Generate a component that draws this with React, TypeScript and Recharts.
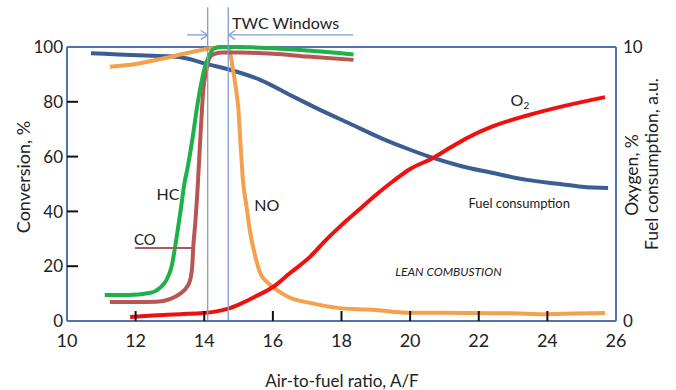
import React from 'react';
import {
  LineChart,
  Line,
  XAxis,
  YAxis,
  ReferenceLine,
  ReferenceDot,
} from 'recharts';

// air-to-fuel ratio ticks and axis ticks
const afrTicks = [10, 12, 14, 16, 18, 20, 22, 24, 26];
const conversionTicks = [0, 20, 40, 60, 80, 100];
const oxygenTicks = [0, 10];

// HC conversion, %
const hcAfr = [11.1, 11.8, 12.4, 12.7, 12.9, 13.05, 13.15, 13.3, 13.44, 13.5, 13.65, 13.79, 13.9, 14.02, 14.15, 14.3, 14.5, 15, 16, 17, 18.35];
const hcConv = [9.5, 9.5, 10.2, 12, 15, 20, 27, 39.4, 51.5, 55, 66, 78, 86, 92.7, 97, 99.6, 100, 100, 99.5, 98.7, 97.3];

// CO conversion, %
const coAfr = [11.25, 12.0, 12.6, 13.0, 13.3, 13.5, 13.59, 13.65, 13.68, 13.74, 13.79, 13.82, 13.9, 13.97, 14.07, 14.17, 14.3, 14.55, 15, 16, 17, 18.35];
const coConv = [6.9, 6.9, 7, 8, 10, 12.5, 15, 20, 27, 36, 45, 51.5, 70, 84, 92, 96.4, 97.5, 98, 98, 97.5, 96.5, 95.3];

// NO conversion, %
const noAfr = [11.25, 12.0, 12.8, 13.5, 14.08, 14.4, 14.65, 14.75, 14.84, 14.92, 14.99, 15.06, 15.13, 15.23, 15.33, 15.48, 15.63, 15.85, 16.12, 16.5, 17.08, 17.96, 18.5, 19.0, 19.9, 21, 21.95, 23, 23.88, 24.8, 25.68];
const noConv = [92.8, 93.8, 95.8, 97.8, 99.3, 99.8, 100, 98, 91.6, 85, 78, 64, 51, 42, 33, 24, 17.5, 14, 11.3, 8.5, 6.6, 4.7, 4.3, 4, 3, 3, 2.9, 2.8, 2.5, 2.7, 2.9];

// fuel consumption, a.u. (right axis)
const fuelAfr = [10.7, 11.5, 12.5, 13.0, 13.5, 14.0, 14.75, 15.63, 16.5, 17.3, 18.25, 19.2, 20.0, 20.67, 21.5, 22.42, 23.4, 24.37, 25.0, 25.77];
const fuelUse = [9.77, 9.73, 9.68, 9.66, 9.58, 9.4, 9.17, 8.8, 8.25, 7.75, 7.2, 6.65, 6.25, 5.95, 5.65, 5.4, 5.15, 5.0, 4.9, 4.85];

// oxygen, % (right axis)
const o2Afr = [11.84, 12.5, 13.3, 13.97, 14.4, 14.75, 15.1, 15.5, 16.0, 16.5, 17.08, 17.58, 18.0, 18.5, 19.0, 19.5, 20.0, 20.67, 21.2, 21.66, 22.4, 23.41, 24.5, 25.68];
const o2Pct = [0.15, 0.2, 0.25, 0.29, 0.36, 0.47, 0.65, 0.9, 1.24, 1.75, 2.34, 3.0, 3.5, 4.05, 4.6, 5.1, 5.55, 5.95, 6.35, 6.68, 7.1, 7.5, 7.85, 8.17];

// TWC window bounds
const twcLow = 14.1;
const twcHigh = 14.7;

const toPoints = (xs: number[], ys: number[]) => xs.map((afr, i) => ({ afr, v: ys[i] }));

const hcData = toPoints(hcAfr, hcConv);
const coData = toPoints(coAfr, coConv);
const noData = toPoints(noAfr, noConv);
const fuelData = toPoints(fuelAfr, fuelUse);
const o2Data = toPoints(o2Afr, o2Pct);

const FONT = 'Lato, "Open Sans", sans-serif';
const FRAME = '#5274ae';
const WIN = '#7f9fd2';

const LeftTick = (props: any) => {
  const { x, y, payload } = props;
  const axisX = x + 4;
  const v = payload.value;
  return (
    <g>
      {v !== 0 && v !== 100 && (
        <line x1={axisX} x2={axisX + 11} y1={y} y2={y} stroke="#111" strokeWidth={2} />
      )}
      <text x={x} y={y} dy="0.36em" textAnchor="end" fontSize={17} fontFamily={FONT} fill="#222">
        {v}
      </text>
    </g>
  );
};

const RightTick = (props: any) => {
  const { x, y, payload } = props;
  return (
    <text x={x} y={y} dy="0.36em" textAnchor="start" fontSize={17} fontFamily={FONT} fill="#222">
      {payload.value}
    </text>
  );
};

const BottomTick = (props: any) => {
  const { x, y, payload } = props;
  const v = payload.value;
  return (
    <g>
      {v !== 10 && v !== 26 && (
        <line x1={x} x2={x} y1={y} y2={y - 10} stroke="#111" strokeWidth={2} />
      )}
      <text x={x} y={y + 26} textAnchor="middle" fontSize={18} fontFamily={FONT} fill="#222">
        {v}
      </text>
    </g>
  );
};

const textShape = (label: React.ReactNode, size: number, italic = false) => (p: any) => (
  <text
    x={p.cx}
    y={p.cy}
    textAnchor="middle"
    dominantBaseline="central"
    fontSize={size}
    fontStyle={italic ? 'italic' : 'normal'}
    fontFamily={FONT}
    fill="#222"
  >
    {label}
  </text>
);

const titleStyle: React.CSSProperties = {
  position: 'absolute',
  fontFamily: FONT,
  color: '#222',
  whiteSpace: 'nowrap',
  transform: 'translate(-50%, -50%)',
  lineHeight: 1,
};

export default function App() {
  return (
    <div style={{ position: 'absolute', left: 0, top: 0, width: 676, height: 390, background: '#fff' }}>
      <LineChart width={676} height={390} margin={{ top: 47, right: 0, bottom: 0, left: 0 }}>
        <XAxis
          dataKey="afr"
          type="number"
          domain={[10, 26]}
          ticks={afrTicks}
          interval={0}
          height={69}
          tickSize={0}
          tickMargin={0}
          tick={<BottomTick />}
          axisLine={{ stroke: FRAME, strokeWidth: 2 }}
          allowDuplicatedCategory={false}
        />
        <YAxis
          yAxisId="left"
          domain={[0, 100]}
          ticks={conversionTicks}
          interval={0}
          width={67}
          tickSize={0}
          tickMargin={4}
          tick={<LeftTick />}
          axisLine={{ stroke: FRAME, strokeWidth: 2 }}
        />
        <YAxis
          yAxisId="right"
          orientation="right"
          domain={[0, 10]}
          ticks={oxygenTicks}
          interval={0}
          width={60}
          tickSize={0}
          tickMargin={7}
          tick={<RightTick />}
          axisLine={{ stroke: FRAME, strokeWidth: 2 }}
        />

        <ReferenceLine yAxisId="left" y={100} stroke={FRAME} strokeWidth={2} />

        <Line yAxisId="right" data={fuelData} dataKey="v" type="monotone" stroke="#3b5d92" strokeWidth={4} dot={false} isAnimationActive={false} />
        <Line yAxisId="left" data={noData} dataKey="v" type="monotone" stroke="#f5a04c" strokeWidth={4} dot={false} isAnimationActive={false} />
        <Line yAxisId="left" data={coData} dataKey="v" type="monotone" stroke="#b95552" strokeWidth={4} dot={false} isAnimationActive={false} />
        <Line yAxisId="left" data={hcData} dataKey="v" type="monotone" stroke="#1db04b" strokeWidth={4} dot={false} isAnimationActive={false} />
        <Line yAxisId="right" data={o2Data} dataKey="v" type="monotone" stroke="#f01010" strokeWidth={4} dot={false} isAnimationActive={false} />

        {/* TWC window */}
        <ReferenceLine yAxisId="left" segment={[{ x: twcLow, y: 0 }, { x: twcLow, y: 114.5 }]} stroke={WIN} strokeWidth={1.3} ifOverflow="visible" />
        <ReferenceLine yAxisId="left" segment={[{ x: twcHigh, y: 0 }, { x: twcHigh, y: 114.5 }]} stroke={WIN} strokeWidth={1.3} ifOverflow="visible" />
        <ReferenceLine yAxisId="left" segment={[{ x: 13.5, y: 104.4 }, { x: twcLow, y: 104.4 }]} stroke={WIN} strokeWidth={1.3} ifOverflow="visible" />
        <ReferenceLine yAxisId="left" segment={[{ x: twcHigh, y: 104.4 }, { x: 18.34, y: 104.4 }]} stroke={WIN} strokeWidth={1.3} ifOverflow="visible" />
        <ReferenceLine yAxisId="left" segment={[{ x: twcLow - 0.2, y: 106 }, { x: twcLow, y: 104.4 }]} stroke={WIN} strokeWidth={1.3} ifOverflow="visible" />
        <ReferenceLine yAxisId="left" segment={[{ x: twcLow - 0.2, y: 102.8 }, { x: twcLow, y: 104.4 }]} stroke={WIN} strokeWidth={1.3} ifOverflow="visible" />
        <ReferenceLine yAxisId="left" segment={[{ x: twcHigh + 0.2, y: 106 }, { x: twcHigh, y: 104.4 }]} stroke={WIN} strokeWidth={1.3} ifOverflow="visible" />
        <ReferenceLine yAxisId="left" segment={[{ x: twcHigh + 0.2, y: 102.8 }, { x: twcHigh, y: 104.4 }]} stroke={WIN} strokeWidth={1.3} ifOverflow="visible" />
        <ReferenceDot yAxisId="left" x={16.37} y={109} ifOverflow="visible" shape={textShape('TWC Windows', 16)} />

        {/* CO leader line */}
        <ReferenceLine yAxisId="left" segment={[{ x: 11.98, y: 26.6 }, { x: 13.7, y: 26.6 }]} stroke="#a85c5c" strokeWidth={2} ifOverflow="visible" />

        {/* series labels */}
        <ReferenceDot yAxisId="left" x={12.94} y={46.7} ifOverflow="visible" shape={textShape('HC', 16)} />
        <ReferenceDot yAxisId="left" x={12.27} y={30} ifOverflow="visible" shape={textShape('CO', 15)} />
        <ReferenceDot yAxisId="left" x={15.82} y={42.5} ifOverflow="visible" shape={textShape('NO', 16)} />
        <ReferenceDot
          yAxisId="left"
          x={23.2}
          y={80.7}
          ifOverflow="visible"
          shape={textShape(
            <>
              O<tspan fontSize={10} dy={5}>2</tspan>
            </>,
            16,
          )}
        />
        <ReferenceDot yAxisId="left" x={23.18} y={42.9} ifOverflow="visible" shape={textShape('Fuel consumption', 13)} />
        <ReferenceDot yAxisId="left" x={21.12} y={18.1} ifOverflow="visible" shape={textShape('LEAN COMBUSTION', 12, true)} />
      </LineChart>

      <div style={{ ...titleStyle, left: 23, top: 177, fontSize: 18, transform: 'translate(-50%, -50%) rotate(-90deg)' }}>
        Conversion, %
      </div>
      <div style={{ ...titleStyle, left: 632, top: 175, fontSize: 17.5, transform: 'translate(-50%, -50%) rotate(-90deg)' }}>
        Oxygen, %
      </div>
      <div style={{ ...titleStyle, left: 652, top: 164, fontSize: 17.5, transform: 'translate(-50%, -50%) rotate(-90deg)' }}>
        Fuel consumption, a.u.
      </div>
      <div style={{ ...titleStyle, left: 342, top: 380, fontSize: 17 }}>Air-to-fuel ratio, A/F</div>
    </div>
  );
}
